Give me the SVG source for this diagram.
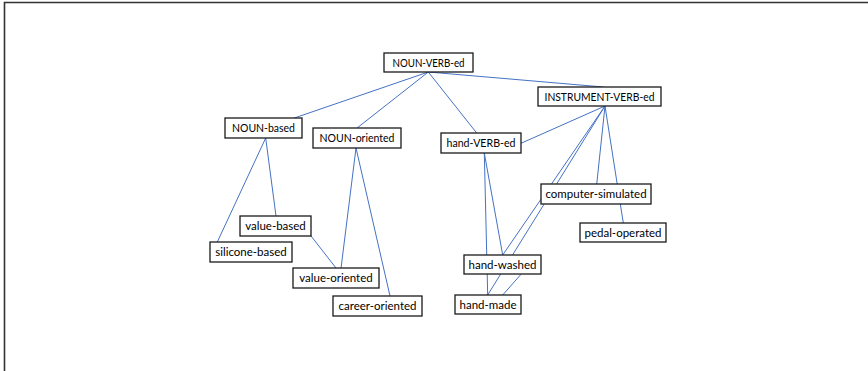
<svg xmlns="http://www.w3.org/2000/svg" width="868" height="371" viewBox="0 0 868 371">
<style>
.box{fill:#fff;stroke:#1a1a1a;stroke-width:1.3}
.lbl{font-family:Lato,"Liberation Sans",Arial,sans-serif;font-size:11.5px;fill:#000;text-anchor:middle}
.edge{stroke:#4472C4;stroke-width:1;fill:none}
</style>
<rect width="868" height="371" fill="#fff"/>
<path d="M4.5 371 V2.5 H868" fill="none" stroke="#333" stroke-width="1.6"/>
<g id="connectors">
<line class="edge" x1="428.3" y1="72" x2="603.3" y2="87"/>
<line class="edge" x1="428.3" y1="72" x2="294.3" y2="118"/>
<line class="edge" x1="428.3" y1="72" x2="356.7" y2="128.3"/>
<line class="edge" x1="428.3" y1="72" x2="476.7" y2="133"/>
<line class="edge" x1="605" y1="106" x2="521" y2="143.3"/>
<line class="edge" x1="605" y1="106" x2="502.7" y2="255"/>
<line class="edge" x1="605" y1="106" x2="487.7" y2="295"/>
<line class="edge" x1="605" y1="106" x2="596.7" y2="184.3"/>
<line class="edge" x1="605" y1="106" x2="623.3" y2="223"/>
<line class="edge" x1="265.7" y1="138" x2="217.3" y2="242"/>
<line class="edge" x1="265.7" y1="138" x2="276" y2="216"/>
<line class="edge" x1="309.5" y1="234" x2="336" y2="268"/>
<line class="edge" x1="356" y1="148" x2="341" y2="268.3"/>
<line class="edge" x1="356" y1="148" x2="390" y2="296"/>
<line class="edge" x1="484.3" y1="153" x2="502.7" y2="255"/>
<line class="edge" x1="484.3" y1="153" x2="487.7" y2="295"/>
<line class="edge" x1="521" y1="274.3" x2="502.7" y2="295"/>
</g>
<g id="n-noun-verb-ed"><rect class="box" x="384" y="53" width="89" height="19"/><text class="lbl" x="428.5" y="66.5" textLength="72" lengthAdjust="spacingAndGlyphs">NOUN-VERB-ed</text></g>
<g id="n-instrument-verb-ed"><rect class="box" x="538" y="87" width="123" height="19"/><text class="lbl" x="599.5" y="100.5" textLength="110" lengthAdjust="spacingAndGlyphs">INSTRUMENT-VERB-ed</text></g>
<g id="n-noun-based"><rect class="box" x="225" y="118" width="77" height="20"/><text class="lbl" x="263.5" y="132" textLength="63" lengthAdjust="spacingAndGlyphs">NOUN-based</text></g>
<g id="n-noun-oriented"><rect class="box" x="313" y="128" width="88" height="20"/><text class="lbl" x="357" y="142" textLength="75" lengthAdjust="spacingAndGlyphs">NOUN-oriented</text></g>
<g id="n-hand-verb-ed"><rect class="box" x="441" y="133" width="80" height="20"/><text class="lbl" x="481" y="147" textLength="69" lengthAdjust="spacingAndGlyphs">hand-VERB-ed</text></g>
<g id="n-computer-simulated"><rect class="box" x="541" y="184" width="110" height="20"/><text class="lbl" x="596" y="198">computer-simulated</text></g>
<g id="n-pedal-operated"><rect class="box" x="580" y="223" width="86" height="19"/><text class="lbl" x="623" y="236.5">pedal-operated</text></g>
<g id="n-value-based"><rect class="box" x="240" y="216" width="71" height="20"/><text class="lbl" x="275.5" y="230">value-based</text></g>
<g id="n-silicone-based"><rect class="box" x="210" y="242" width="82" height="20"/><text class="lbl" x="251" y="256">silicone-based</text></g>
<g id="n-value-oriented"><rect class="box" x="293" y="268" width="86" height="20"/><text class="lbl" x="336" y="282">value-oriented</text></g>
<g id="n-career-oriented"><rect class="box" x="333" y="296" width="89" height="20"/><text class="lbl" x="377.5" y="310">career-oriented</text></g>
<g id="n-hand-washed"><rect class="box" x="464" y="255" width="77" height="19"/><text class="lbl" x="502.5" y="268.5">hand-washed</text></g>
<g id="n-hand-made"><rect class="box" x="455" y="295" width="66" height="19"/><text class="lbl" x="488" y="308.5">hand-made</text></g>
</svg>
